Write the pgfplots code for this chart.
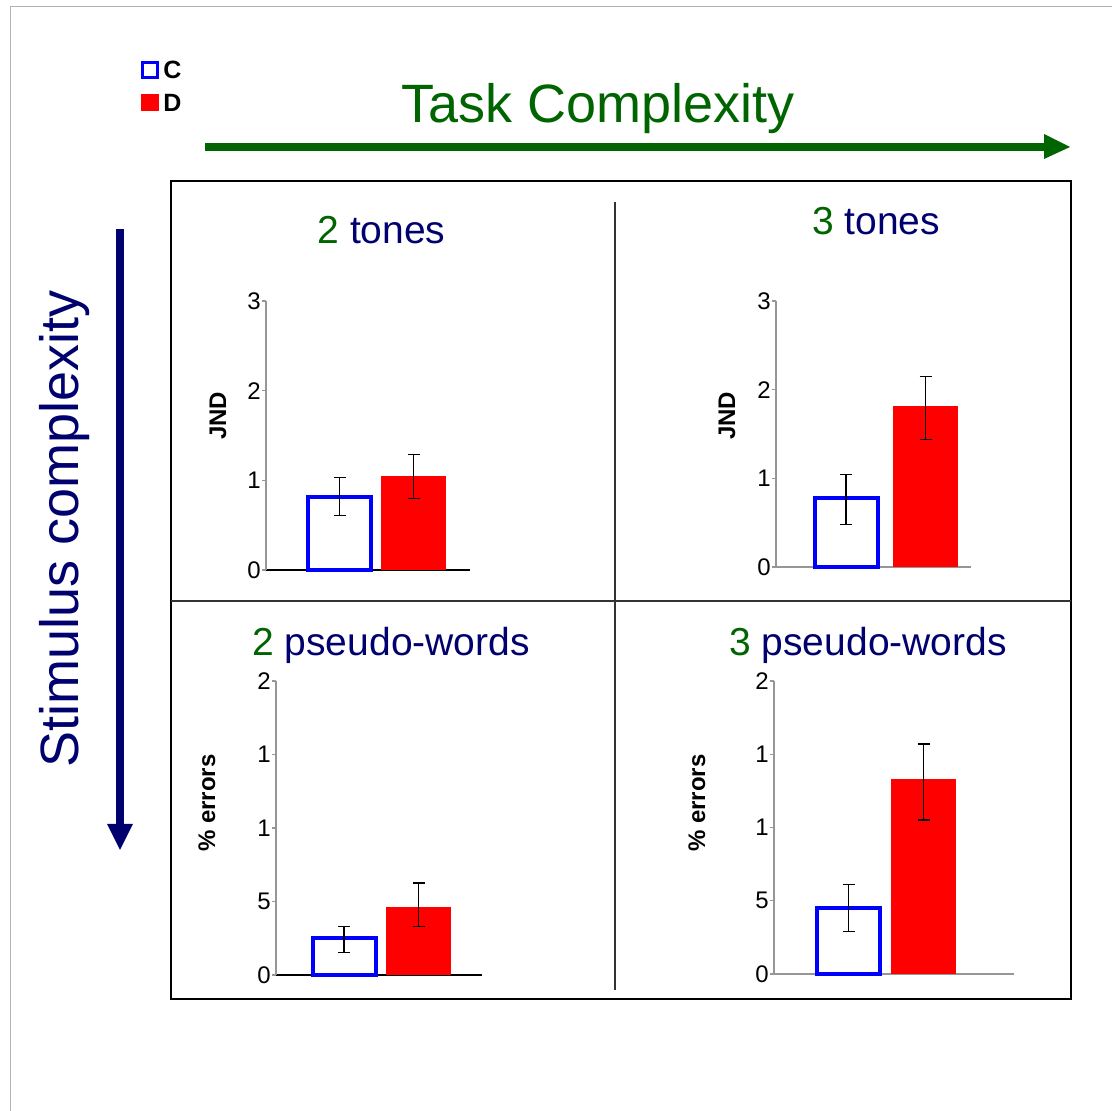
\documentclass[border=0pt]{standalone}
\usepackage{pgfplots}
\pgfplotsset{compat=1.18}
\usepackage{fontspec}
\setmainfont{Liberation Sans}
\definecolor{tgreen}{RGB}{0,100,0}
\definecolor{tnavy}{RGB}{0,0,110}
\definecolor{axgray}{RGB}{150,150,150}

\pgfplotsset{
  panel/.style={
    scale only axis, anchor=south west, clip=false,
    axis lines*=left, xmin=0, ymin=0, enlargelimits=false,
    xtick=\empty, ytick pos=left, tick align=outside,
    major tick length=2pt,
    y axis line style={axgray, line width=0.6pt},
    ytick style={axgray, line width=0.6pt},
    yticklabel style={font=\fontsize{12}{14}\selectfont, inner xsep=0.5pt},
    /pgf/number format/assume math mode=true,
  },
  barC/.style={ybar, bar shift=0pt, bar width=31.5pt, draw=blue, fill=white, line width=2pt,
    /pgfplots/error bars/y dir=both, /pgfplots/error bars/y explicit,
    /pgfplots/error bars/error bar style={black, line width=0.7pt},
    /pgfplots/error bars/error mark options={black, rotate=90, mark size=3pt, line width=0.7pt}},
  barD/.style={ybar, bar shift=0pt, bar width=32.5pt, draw=none, fill=red,
    /pgfplots/error bars/y dir=both, /pgfplots/error bars/y explicit,
    /pgfplots/error bars/error bar style={black, line width=0.7pt},
    /pgfplots/error bars/error mark options={black, rotate=90, mark size=3pt, line width=0.7pt}},
}

\begin{document}
\begin{tikzpicture}[x=0.5pt, y=0.5pt]
\path[use as bounding box, fill=white] (0,0) rectangle (1112,1111);
\draw[gray!60, line width=0.5pt] (10,0) -- (10,1104) -- (1112,1104);

% legend
\draw[blue, line width=1.5pt] (142.5,1048.5) rectangle (157.5,1033.5);
\fill[red] (141,1017) rectangle (159,1000);
\node[anchor=base west, inner sep=0pt, font=\bfseries\fontsize{12.5}{15}\selectfont] at (163,1032) {C};
\node[anchor=base west, inner sep=0pt, font=\bfseries\fontsize{12.5}{15}\selectfont] at (163,999) {D};

% Task complexity
\node[anchor=base, text=tgreen, font=\fontsize{27}{32}\selectfont] at (598,988) {Task Complexity};
\draw[tgreen, line width=4pt] (205,964) -- (1046,964);
\fill[tgreen] (1044,977) -- (1070,964) -- (1044,952) -- cycle;

% Stimulus complexity
\node[rotate=90, anchor=base, text=tnavy, font=\fontsize{27}{32}\selectfont] at (78,582) {Stimulus complexity};
\draw[tnavy, line width=4pt] (120,882) -- (120,285);
\fill[tnavy] (107,287) -- (120,261) -- (133,287) -- cycle;

% panel frame
\draw[line width=1pt] (171,930) rectangle (1071,112);
\draw[line width=1pt, black!80] (615,909) -- (615,121);
\draw[line width=1pt, black!80] (171,510) -- (1071,510);

% titles
\node[anchor=base, font=\fontsize{19.5}{23}\selectfont] at (381.5,867) {\textcolor{tgreen}{2} \textcolor{tnavy}{tones}};
\node[anchor=base, font=\fontsize{19.5}{23}\selectfont] at (876,876) {\textcolor{tgreen}{3} \textcolor{tnavy}{tones}};
\node[anchor=base, font=\fontsize{19.5}{23}\selectfont] at (391,455) {\textcolor{tgreen}{2} \textcolor{tnavy}{pseudo-words}};
\node[anchor=base, font=\fontsize{19.5}{23}\selectfont] at (868,455) {\textcolor{tgreen}{3} \textcolor{tnavy}{pseudo-words}};

% y labels
\node[rotate=90, font=\bfseries\fontsize{12}{14}\selectfont] at (218,695) {JND};
\node[rotate=90, font=\bfseries\fontsize{12}{14}\selectfont] at (727,695) {JND};
\node[rotate=90, font=\bfseries\fontsize{12}{14}\selectfont] at (207,308) {\% errors};
\node[rotate=90, font=\bfseries\fontsize{12}{14}\selectfont] at (697,308) {\% errors};

% panel 1: 2 tones
\begin{axis}[panel, at={(133pt,270.5pt)}, width=102pt, height=134.5pt, xmax=204, ymax=3,
  ytick={0,1,2,3}, yticklabels={0,1,2,3},
  x axis line style={black, line width=1pt}]
\addplot[barC] coordinates {(73.5,0.81) += (0,0.22) -= (0,0.20)};
\addplot[barD] coordinates {(147.5,1.05) += (0,0.24) -= (0,0.25)};
\end{axis}

% panel 2: 3 tones
\begin{axis}[panel, at={(388pt,272pt)}, width=97.5pt, height=133pt, xmax=195, ymax=3,
  ytick={0,1,2,3}, yticklabels={0,1,2,3},
  x axis line style={axgray, line width=0.7pt}]
\addplot[barC] coordinates {(70,0.78) += (0,0.26) -= (0,0.30)};
\addplot[barD] coordinates {(149.5,1.815) += (0,0.335) -= (0,0.375)};
\end{axis}

% panel 3: 2 pseudo-words
\begin{axis}[panel, at={(138pt,68pt)}, width=103pt, height=147pt, xmax=206, ymax=20,
  ytick={0,5,10,15,20}, yticklabels={0,5,1,1,2},
  x axis line style={black, line width=1pt}]
\addplot[barC] coordinates {(68,2.5) += (0,0.8) -= (0,0.95)};
\addplot[barD] coordinates {(142.5,4.6) += (0,1.65) -= (0,1.3)};
\end{axis}

% panel 4: 3 pseudo-words
\begin{axis}[panel, at={(387pt,68.5pt)}, width=120pt, height=146.5pt, xmax=240, ymax=20,
  ytick={0,5,10,15,20}, yticklabels={0,5,1,1,2},
  x axis line style={axgray, line width=0.7pt}]
\addplot[barC] coordinates {(74.5,4.5) += (0,1.6) -= (0,1.6)};
\addplot[barD] coordinates {(149.5,13.3) += (0,2.4) -= (0,2.8)};
\end{axis}
\end{tikzpicture}
\end{document}
